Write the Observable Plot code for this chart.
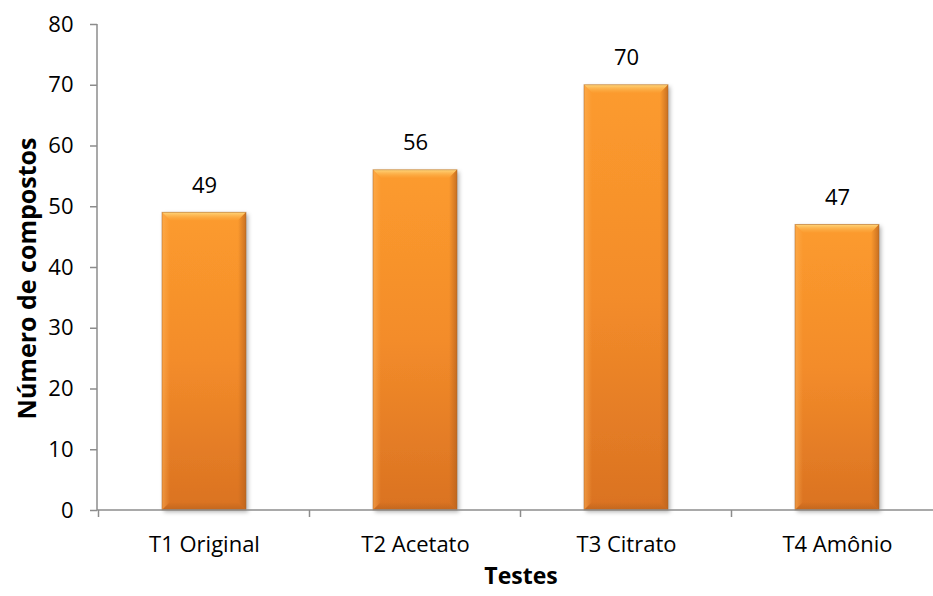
<!DOCTYPE html>
<html>
<head>
<meta charset="utf-8">
<script src="https://cdn.jsdelivr.net/npm/d3@7"></script>
<script src="https://cdn.jsdelivr.net/npm/@observablehq/plot@0.6"></script>
<style>
  html, body { margin: 0; padding: 0; background: #fff; }
  #chart svg { display: block; font-family: "Open Sans", "Noto Sans", sans-serif; }
</style>
</head>
<body>
<div id="chart"></div>
<script>
// Number of compounds identified per test
const testes = ["T1 Original", "T2 Acetato", "T3 Citrato", "T4 Amônio"];
const compostos = [49, 56, 70, 47];
const yTicks = [0, 10, 20, 30, 40, 50, 60, 70, 80];

const data = testes.map((t, i) => ({teste: t, n: compostos[i]}));

// Beveled edges drawn on top of each bar, in screen space from the scales
function bevel(index, scales) {
  const g = d3.create("svg:g");
  const bw = scales.x.bandwidth();
  const b = 8;
  for (const d of data) {
    const x0 = scales.x(d.teste), x1 = x0 + bw;
    const y0 = scales.y(d.n), y1 = scales.y(0);
    g.append("polygon")
      .attr("points", [[x0, y0], [x1, y0], [x1 - b, y0 + b], [x0 + b, y0 + b]].join(" "))
      .attr("fill", "url(#bevelTop)");
    g.append("polygon")
      .attr("points", [[x0, y0], [x0 + b, y0 + b], [x0 + b, y1 - b], [x0, y1]].join(" "))
      .attr("fill", "url(#bevelLeft)");
    g.append("polygon")
      .attr("points", [[x1, y0], [x1 - b, y0 + b], [x1 - b, y1 - b], [x1, y1]].join(" "))
      .attr("fill", "url(#bevelRight)");
    g.append("polygon")
      .attr("points", [[x0, y1], [x0 + b, y1 - b], [x1 - b, y1 - b], [x1, y1]].join(" "))
      .attr("fill", "url(#bevelBottom)");
    g.append("rect")
      .attr("x", x0).attr("y", y0).attr("width", bw).attr("height", y1 - y0)
      .attr("fill", "none").attr("stroke", "#a8652a").attr("stroke-opacity", 0.5).attr("stroke-width", 1);
  }
  return g.node();
}

// Axis lines and category boundary ticks
function axisLines(index, scales, values, dims) {
  const g = d3.create("svg:g").attr("stroke", "#8c8c8c").attr("stroke-width", 1.5);
  const step = scales.x.step();
  const y0 = scales.y(0);
  const xLeft = dims.marginLeft;
  g.append("line").attr("x1", xLeft).attr("x2", xLeft).attr("y1", scales.y(80)).attr("y2", y0);
  g.append("line").attr("x1", xLeft).attr("x2", dims.width - dims.marginRight).attr("y1", y0).attr("y2", y0);
  const starts = testes.map(t => scales.x(t) - (step - scales.x.bandwidth()) / 2);
  for (const x of starts) {
    g.append("line").attr("x1", x).attr("x2", x).attr("y1", y0).attr("y2", y0 + 7);
  }
  return g.node();
}

const chart = Plot.plot({
  width: 933,
  height: 596,
  marginLeft: 97,
  marginRight: -11,
  marginTop: 24,
  marginBottom: 86,
  style: {fontSize: "22px", color: "#000", background: "#fff"},
  x: {domain: testes, paddingInner: 0.6, paddingOuter: 0.3},
  y: {domain: [0, 80]},
  marks: [
    Plot.barY(data, {x: "teste", y: "n", fill: "url(#barFill)"}),
    bevel,
    axisLines,
    Plot.axisY({ticks: yTicks, tickSize: 7, tickPadding: 17, stroke: "#8c8c8c", strokeWidth: 1.5, label: null, fontSize: 22}),
    Plot.axisX({tickSize: 0, tickPadding: 26, label: null, fontSize: 22}),
    Plot.text(data, {x: "teste", y: "n", text: d => String(d.n), dy: -27, fontSize: 22, fill: "#000"}),
    Plot.text(["Testes"], {frameAnchor: "bottom", dy: 73, fontWeight: "bold", fontSize: 23, fill: "#000"}),
    Plot.text(["Número de compostos"], {frameAnchor: "left", textAnchor: "middle", rotate: -90, dx: -70, dy: 11, fontWeight: "bold", fontSize: 25, fill: "#000"})
  ]
});

// Gradients and shadow used by the bars
const svg = d3.select(chart);
const defs = svg.insert("defs", ":first-child");
const vg = defs.append("linearGradient").attr("id", "barFill").attr("x1", 0).attr("y1", 0).attr("x2", 0).attr("y2", 1);
vg.append("stop").attr("offset", "0%").attr("stop-color", "#fc9b2e");
vg.append("stop").attr("offset", "50%").attr("stop-color", "#f38c2a");
vg.append("stop").attr("offset", "100%").attr("stop-color", "#da7222");

const gTop = defs.append("linearGradient").attr("id", "bevelTop").attr("x1", 0).attr("y1", 0).attr("x2", 0).attr("y2", 1);
gTop.append("stop").attr("offset", "0%").attr("stop-color", "#ffd77c");
gTop.append("stop").attr("offset", "100%").attr("stop-color", "#fba53a").attr("stop-opacity", 0.3);

const gLeft = defs.append("linearGradient").attr("id", "bevelLeft").attr("x1", 0).attr("y1", 0).attr("x2", 1).attr("y2", 0);
gLeft.append("stop").attr("offset", "0%").attr("stop-color", "#ffb45a").attr("stop-opacity", 0.55);
gLeft.append("stop").attr("offset", "100%").attr("stop-color", "#ffb45a").attr("stop-opacity", 0);

const gRight = defs.append("linearGradient").attr("id", "bevelRight").attr("x1", 1).attr("y1", 0).attr("x2", 0).attr("y2", 0);
gRight.append("stop").attr("offset", "0%").attr("stop-color", "#b8621c").attr("stop-opacity", 0.75);
gRight.append("stop").attr("offset", "100%").attr("stop-color", "#b8621c").attr("stop-opacity", 0);

const gBottom = defs.append("linearGradient").attr("id", "bevelBottom").attr("x1", 0).attr("y1", 1).attr("x2", 0).attr("y2", 0);
gBottom.append("stop").attr("offset", "0%").attr("stop-color", "#b8621c").attr("stop-opacity", 0.7);
gBottom.append("stop").attr("offset", "100%").attr("stop-color", "#b8621c").attr("stop-opacity", 0);

const sh = defs.append("filter").attr("id", "shadow").attr("x", "-10%").attr("y", "-10%").attr("width", "130%").attr("height", "130%");
sh.append("feDropShadow").attr("dx", 2).attr("dy", 2).attr("stdDeviation", 2).attr("flood-color", "#000").attr("flood-opacity", 0.3);
svg.selectAll('g[aria-label="bar"]').attr("filter", "url(#shadow)");

document.getElementById("chart").append(chart);
</script>
</body>
</html>
